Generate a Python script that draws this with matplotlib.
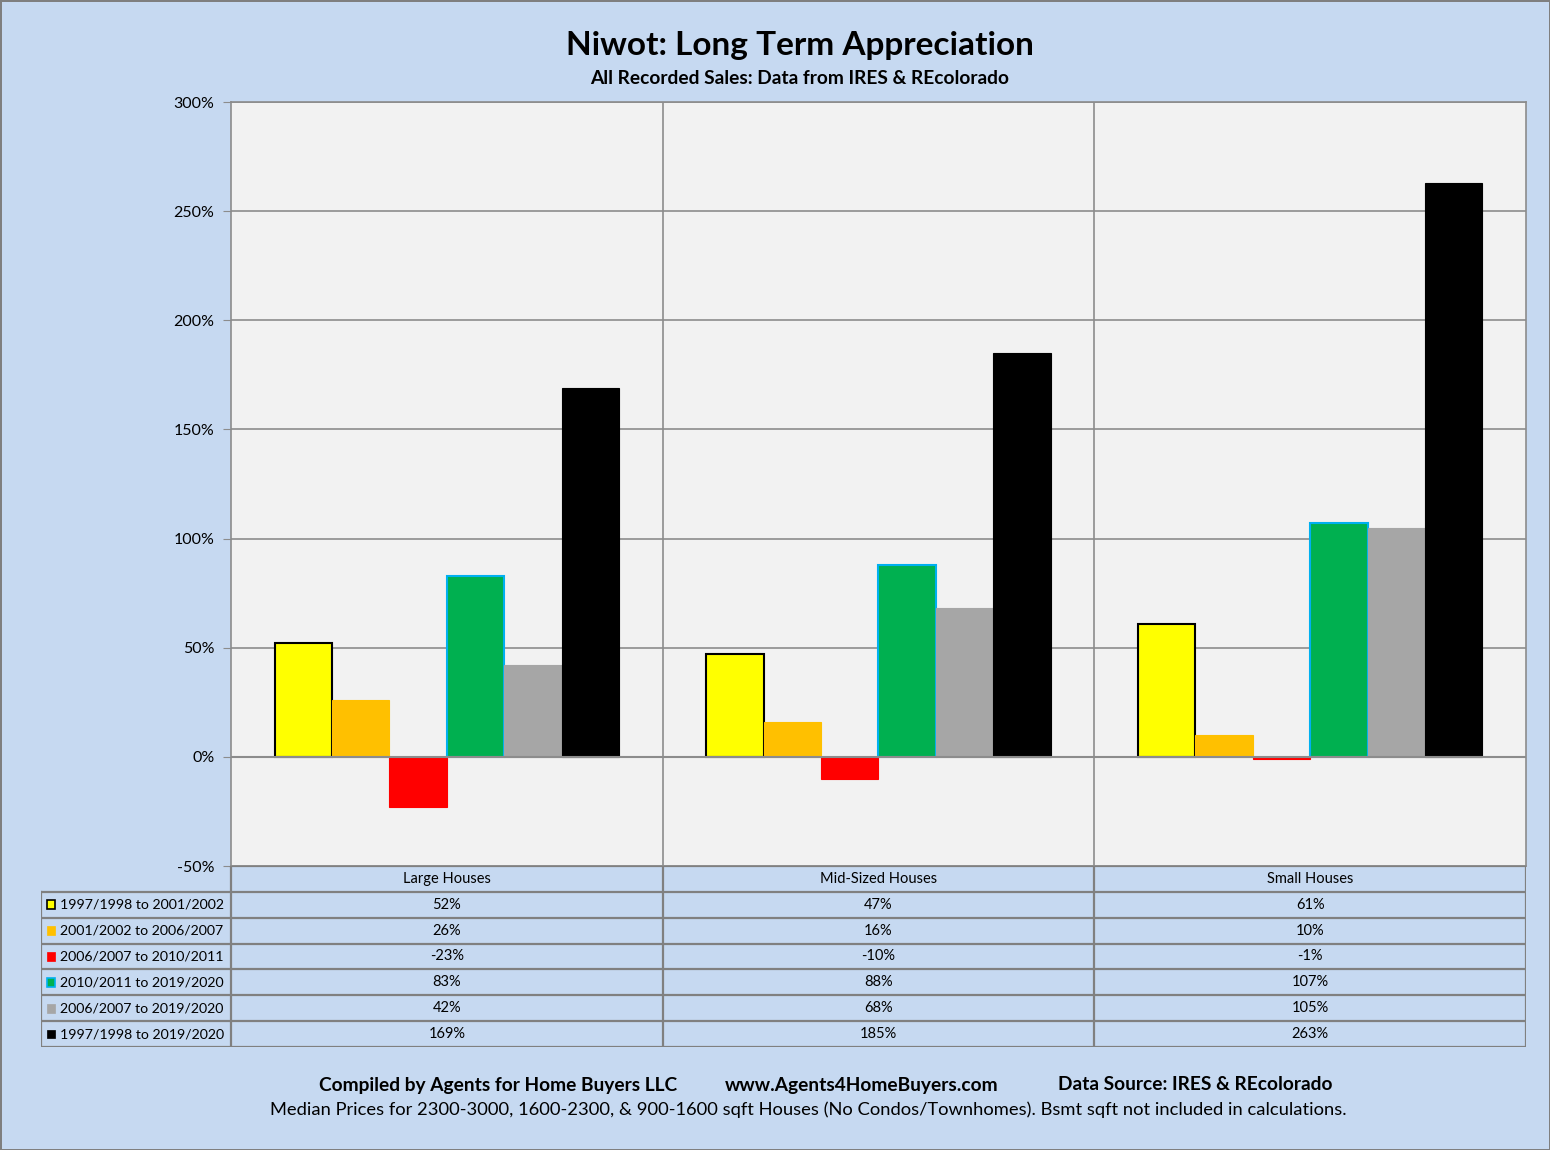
import matplotlib
matplotlib.use('Agg')
import matplotlib.pyplot as plt
from matplotlib.patches import Rectangle
import numpy as np

categories = ["Large Houses", "Mid-Sized Houses", "Small Houses"]
periods = [
    "1997/1998 to 2001/2002",
    "2001/2002 to 2006/2007",
    "2006/2007 to 2010/2011",
    "2010/2011 to 2019/2020",
    "2006/2007 to 2019/2020",
    "1997/1998 to 2019/2020",
]
p_97_02 = [52, 47, 61]
p_02_07 = [26, 16, 10]
p_07_11 = [-23, -10, -1]
p_11_20 = [83, 88, 107]
p_07_20 = [42, 68, 105]
p_97_20 = [169, 185, 263]
series = [p_97_02, p_02_07, p_07_11, p_11_20, p_07_20, p_97_20]

fills = ['#FFFF00', '#FFC000', '#FF0000', '#00B050', '#A6A6A6', '#000000']
edges = ['#000000', '#FFC000', '#FF0000', '#00B0F0', '#A6A6A6', '#000000']
yticks = [-50, 0, 50, 100, 150, 200, 250, 300]

FONT = ['Lato', 'DejaVu Sans']
plt.rcParams['font.family'] = FONT

bg = '#C6D9F1'
grid_c = '#8C8C8C'

fig = plt.figure(figsize=(15.5, 11.5), dpi=100)
fig.patch.set_facecolor(bg)
fig.patch.set_edgecolor('#7F7F7F')
fig.patch.set_linewidth(2)

W, H = 1550.0, 1150.0
ax = fig.add_axes([231 / W, 1 - 866 / H, (1526 - 231) / W, (866 - 102) / H])
ax.set_facecolor('#F2F2F2')

x = np.arange(len(categories))
bw = 0.133
for k, vals in enumerate(series):
    ax.bar(x + (k - 2.5) * bw, vals, width=bw, color=fills[k],
           edgecolor=edges[k], linewidth=1.5 if k in (0, 3) else 0.8, zorder=3)

ax.set_xlim(-0.5, 2.5)
ax.set_ylim(-50, 300)
ax.set_yticks(yticks)
ax.set_yticklabels([f"{v}%" for v in yticks], fontsize=11.5)
ax.tick_params(axis='y', length=6, color=grid_c, pad=6)
ax.set_xticks([])
ax.grid(axis='y', color=grid_c, linewidth=1.2, zorder=1)
for b in (0.5, 1.5):
    ax.axvline(b, color=grid_c, linewidth=1.2, zorder=1)
ax.axhline(0, color=grid_c, linewidth=1.5, zorder=4)
for s in ax.spines.values():
    s.set_color(grid_c)
    s.set_linewidth(1.2)

# data table under the plot
tab = fig.add_axes([41 / W, 1 - 1047 / H, (1526 - 41) / W, (1047 - 866) / H])
tab.set_facecolor('none')
tab.axis('off')
left_w = (231 - 41) / ((1526 - 231) / 3.0)
x0 = -0.5 - left_w
tab.set_xlim(x0, 2.5)
tab.set_ylim(7, 0)
lc = '#808080'
lw = 1.6
tab.plot([-0.5, 2.5], [0, 0], color=lc, lw=lw)
for r in range(1, 8):
    tab.plot([x0, 2.5], [r, r], color=lc, lw=lw)
for vx in (-0.5, 0.5, 1.5, 2.5):
    tab.plot([vx, vx], [0, 7], color=lc, lw=lw)
tab.plot([x0, x0], [1, 7], color=lc, lw=lw)

for i, c in enumerate(categories):
    tab.text(i, 0.5, c, ha='center', va='center', fontsize=10.5)
for k, vals in enumerate(series):
    yy = k + 1.5
    tab.add_patch(Rectangle((x0 + 0.014, yy - 0.17), 0.018, 0.34,
                            facecolor=fills[k], edgecolor=edges[k],
                            linewidth=1.2 if k in (0, 3) else 0.5))
    tab.text(x0 + 0.043, yy, periods[k], ha='left', va='center', fontsize=10.2)
    for i, v in enumerate(vals):
        tab.text(i, yy, f"{v}%", ha='center', va='center', fontsize=10.5)

fig.text(0.516, 1 - 45 / H, "Niwot: Long Term Appreciation", ha='center', va='center',
         fontsize=24, fontweight='bold')
fig.text(0.516, 1 - 79 / H, "All Recorded Sales: Data from IRES & REcolorado", ha='center',
         va='center', fontsize=13.8, fontweight='bold')

fig.text(498 / W, 1 - 1085 / H, "Compiled by Agents for Home Buyers LLC", ha='center',
         va='center', fontsize=13.8, fontweight='bold')
fig.text(862 / W, 1 - 1085 / H, "www.Agents4HomeBuyers.com", ha='center',
         va='center', fontsize=13.8, fontweight='bold')
fig.text(1195 / W, 1 - 1085 / H, "Data Source: IRES & REcolorado", ha='center',
         va='center', fontsize=13.8, fontweight='bold')
fig.text(808 / W, 1 - 1110 / H,
         "Median Prices for 2300-3000, 1600-2300, & 900-1600 sqft Houses (No Condos/Townhomes). Bsmt sqft not included in calculations.",
         ha='center', va='center', fontsize=13.2)

fig.savefig('out.png', dpi=100, facecolor=fig.get_facecolor(), edgecolor=fig.get_edgecolor())
